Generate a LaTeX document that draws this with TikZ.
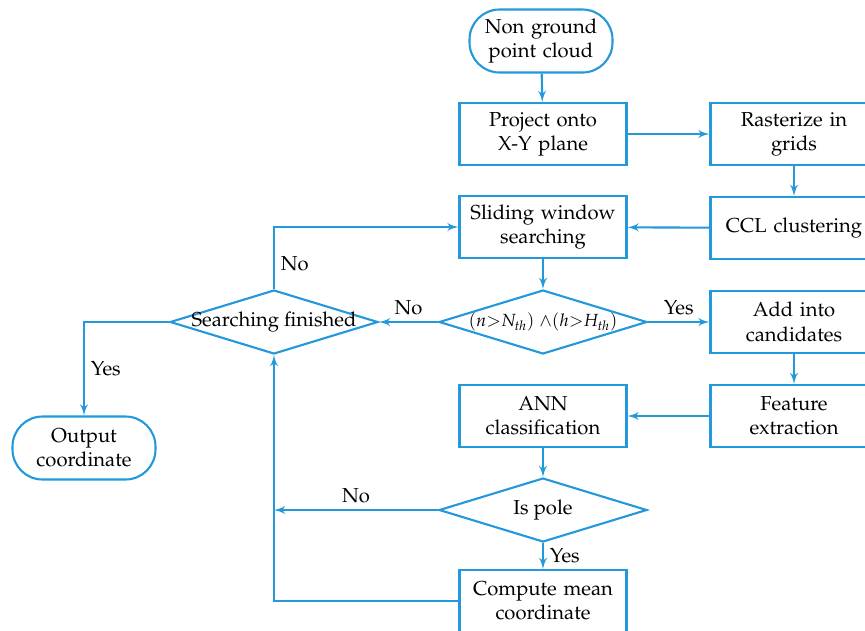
\documentclass[tikz,border=0pt]{standalone}
\usepackage[T1]{fontenc}
\usepackage{mathpazo}
\usepackage{tikz}
\usetikzlibrary{shapes,arrows}
\definecolor{flowblue}{RGB}{35,152,218}

\begin{document}
\begin{tikzpicture}[x=0.02cm,y=-0.02cm,auto,
    font=\fontsize{11.5pt}{13.8pt}\selectfont,
    block_process/.style ={rectangle, draw=flowblue, line width=1.2pt, fill=white,
      text width=3.2cm, text centered,
      minimum width=3.32cm, minimum height=1.24cm, inner sep=2pt},
    block_terminal/.style ={rectangle, rounded corners=0.6cm, draw=flowblue,
      line width=1.2pt, fill=white, text width=2.7cm, text centered,
      minimum width=2.86cm, minimum height=1.26cm, inner sep=2pt},
    block_decision/.style ={diamond, draw=flowblue, line width=1.2pt, fill=white,
      aspect=3.25, inner sep=0pt, minimum width=4.16cm, minimum height=1.28cm},
      line/.style ={draw=flowblue, line width=1.2pt, -latex', shorten >=0pt}]
    \useasboundingbox (0,0) rectangle (865,630);
    % main column
    \node [block_terminal] (start) at (541,41) {Non ground\\point cloud};
    \node [block_process] (project) at (543,134) {Project onto\\X-Y plane};
    \node [block_process] (sliding) at (543,227) {Sliding window\\searching};
    \node [block_decision] (cond) at (543,322)
      {\makebox[0pt]{\fontsize{10pt}{12pt}\selectfont
        $(n{>}N_{\mathit{th}})\;{\wedge}(h{>}H_{\mathit{th}})$}};
    \node [block_process] (ann) at (543,416) {ANN\\classification};
    \node [block_decision] (ispole) at (543,510) {\makebox[0pt]{Is pole}};
    \node [block_process] (compute) at (543,601) {Compute mean\\coordinate};
    % right column
    \node [block_process] (raster) at (794,134) {Rasterize in\\grids};
    \node [block_process] (ccl) at (794,228) {CCL clustering};
    \node [block_process] (add) at (794,322) {Add into\\candidates};
    \node [block_process] (feature) at (794,416) {Feature\\extraction};
    % left side
    \node [block_decision] (finish) at (274,322) {\makebox[0pt]{Searching finished}};
    \node [block_terminal] (output) at (84,448) {Output\\coordinate};
    % connecting nodes with paths
    \begin{scope}[every path/.style=line]
      \path (start) -- (project);
      \path (project) -- (raster);
      \path (raster) -- (ccl);
      \path (ccl) -- (sliding);
      \path (sliding) -- (cond);
      \path (cond) -- node[above] {Yes} (add);
      \path (add) -- (feature);
      \path (feature) -- (ann);
      \path (ann) -- (ispole);
      \path (ispole) -- node[right] {Yes} (compute);
      \path (cond) -- node[above] {No} (finish);
      \path (ispole.west) -- node[above] {No} (ispole.west -| finish.south);
      \path (compute.west) -| (finish.south);
      \path (finish.north) |- node[pos=0.2,right] {No} (sliding.west);
      \path (finish.west) -| node[pos=0.75,right] {Yes} (output.north);
    \end{scope}
\end{tikzpicture}
\end{document}
